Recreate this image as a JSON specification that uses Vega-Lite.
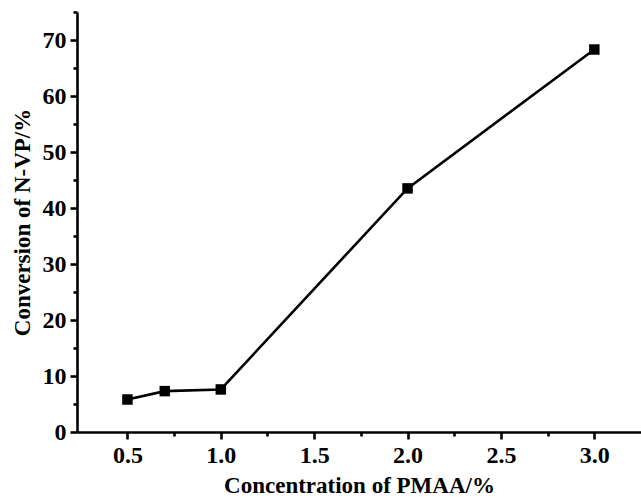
{
  "$schema": "https://vega.github.io/schema/vega-lite/v6.json",
  "autosize": "none",
  "width": 564,
  "height": 420,
  "padding": {"left": 77, "top": 12, "right": 0, "bottom": 67},
  "background": "white",
  "config": {
    "view": {"stroke": null},
    "axis": {
      "domainColor": "black",
      "domainWidth": 2.6,
      "tickColor": "black",
      "tickWidth": 2.6,
      "grid": false,
      "labelColor": "black",
      "titleColor": "black",
      "titleFont": "Liberation Serif",
      "titleFontWeight": "bold",
      "titleFontSize": 23
    }
  },
  "data": {
    "values": [
      {"pmaa": 0.5, "conversion": 5.8},
      {"pmaa": 0.7, "conversion": 7.3},
      {"pmaa": 1.0, "conversion": 7.6},
      {"pmaa": 2.0, "conversion": 43.5},
      {"pmaa": 3.0, "conversion": 68.3}
    ]
  },
  "encoding": {
    "x": {
      "field": "pmaa",
      "type": "quantitative",
      "scale": {"domain": [0.23, 3.25], "nice": false, "zero": false},
      "title": "Concentration of PMAA/%",
      "axis": {
        "values": [0.5, 0.75, 1.0, 1.25, 1.5, 1.75, 2.0, 2.25, 2.5, 2.75, 3.0],
        "format": ".1f",
        "labelExpr": "round(datum.value * 100) % 50 === 0 ? datum.label : ''",
        "tickSize": {"condition": {"test": "round(datum.value * 100) % 50 === 0", "value": 7}, "value": 4},
        "labelFont": "Liberation Serif",
        "labelFontWeight": "bold",
        "labelFontSize": {"expr": "24"},
        "labelPadding": 4,
        "titlePadding": 7
      }
    },
    "y": {
      "field": "conversion",
      "type": "quantitative",
      "scale": {"domain": [0, 75], "nice": false},
      "title": "Conversion of N-VP/%",
      "axis": {
        "values": [0, 5, 10, 15, 20, 25, 30, 35, 40, 45, 50, 55, 60, 65, 70, 75],
        "labelExpr": "datum.value % 10 === 0 ? datum.label : ''",
        "tickSize": {"condition": {"test": "datum.value % 10 === 0", "value": 7}, "value": 4},
        "labelFont": "Liberation Serif",
        "labelFontWeight": "bold",
        "labelFontSize": {"expr": "24"},
        "labelPadding": 4,
        "titlePadding": 8
      }
    }
  },
  "layer": [
    {"mark": {"type": "line", "color": "black", "strokeWidth": 2.6}},
    {"mark": {"type": "point", "shape": "square", "filled": true, "color": "black", "size": 110, "opacity": 1}}
  ]
}
